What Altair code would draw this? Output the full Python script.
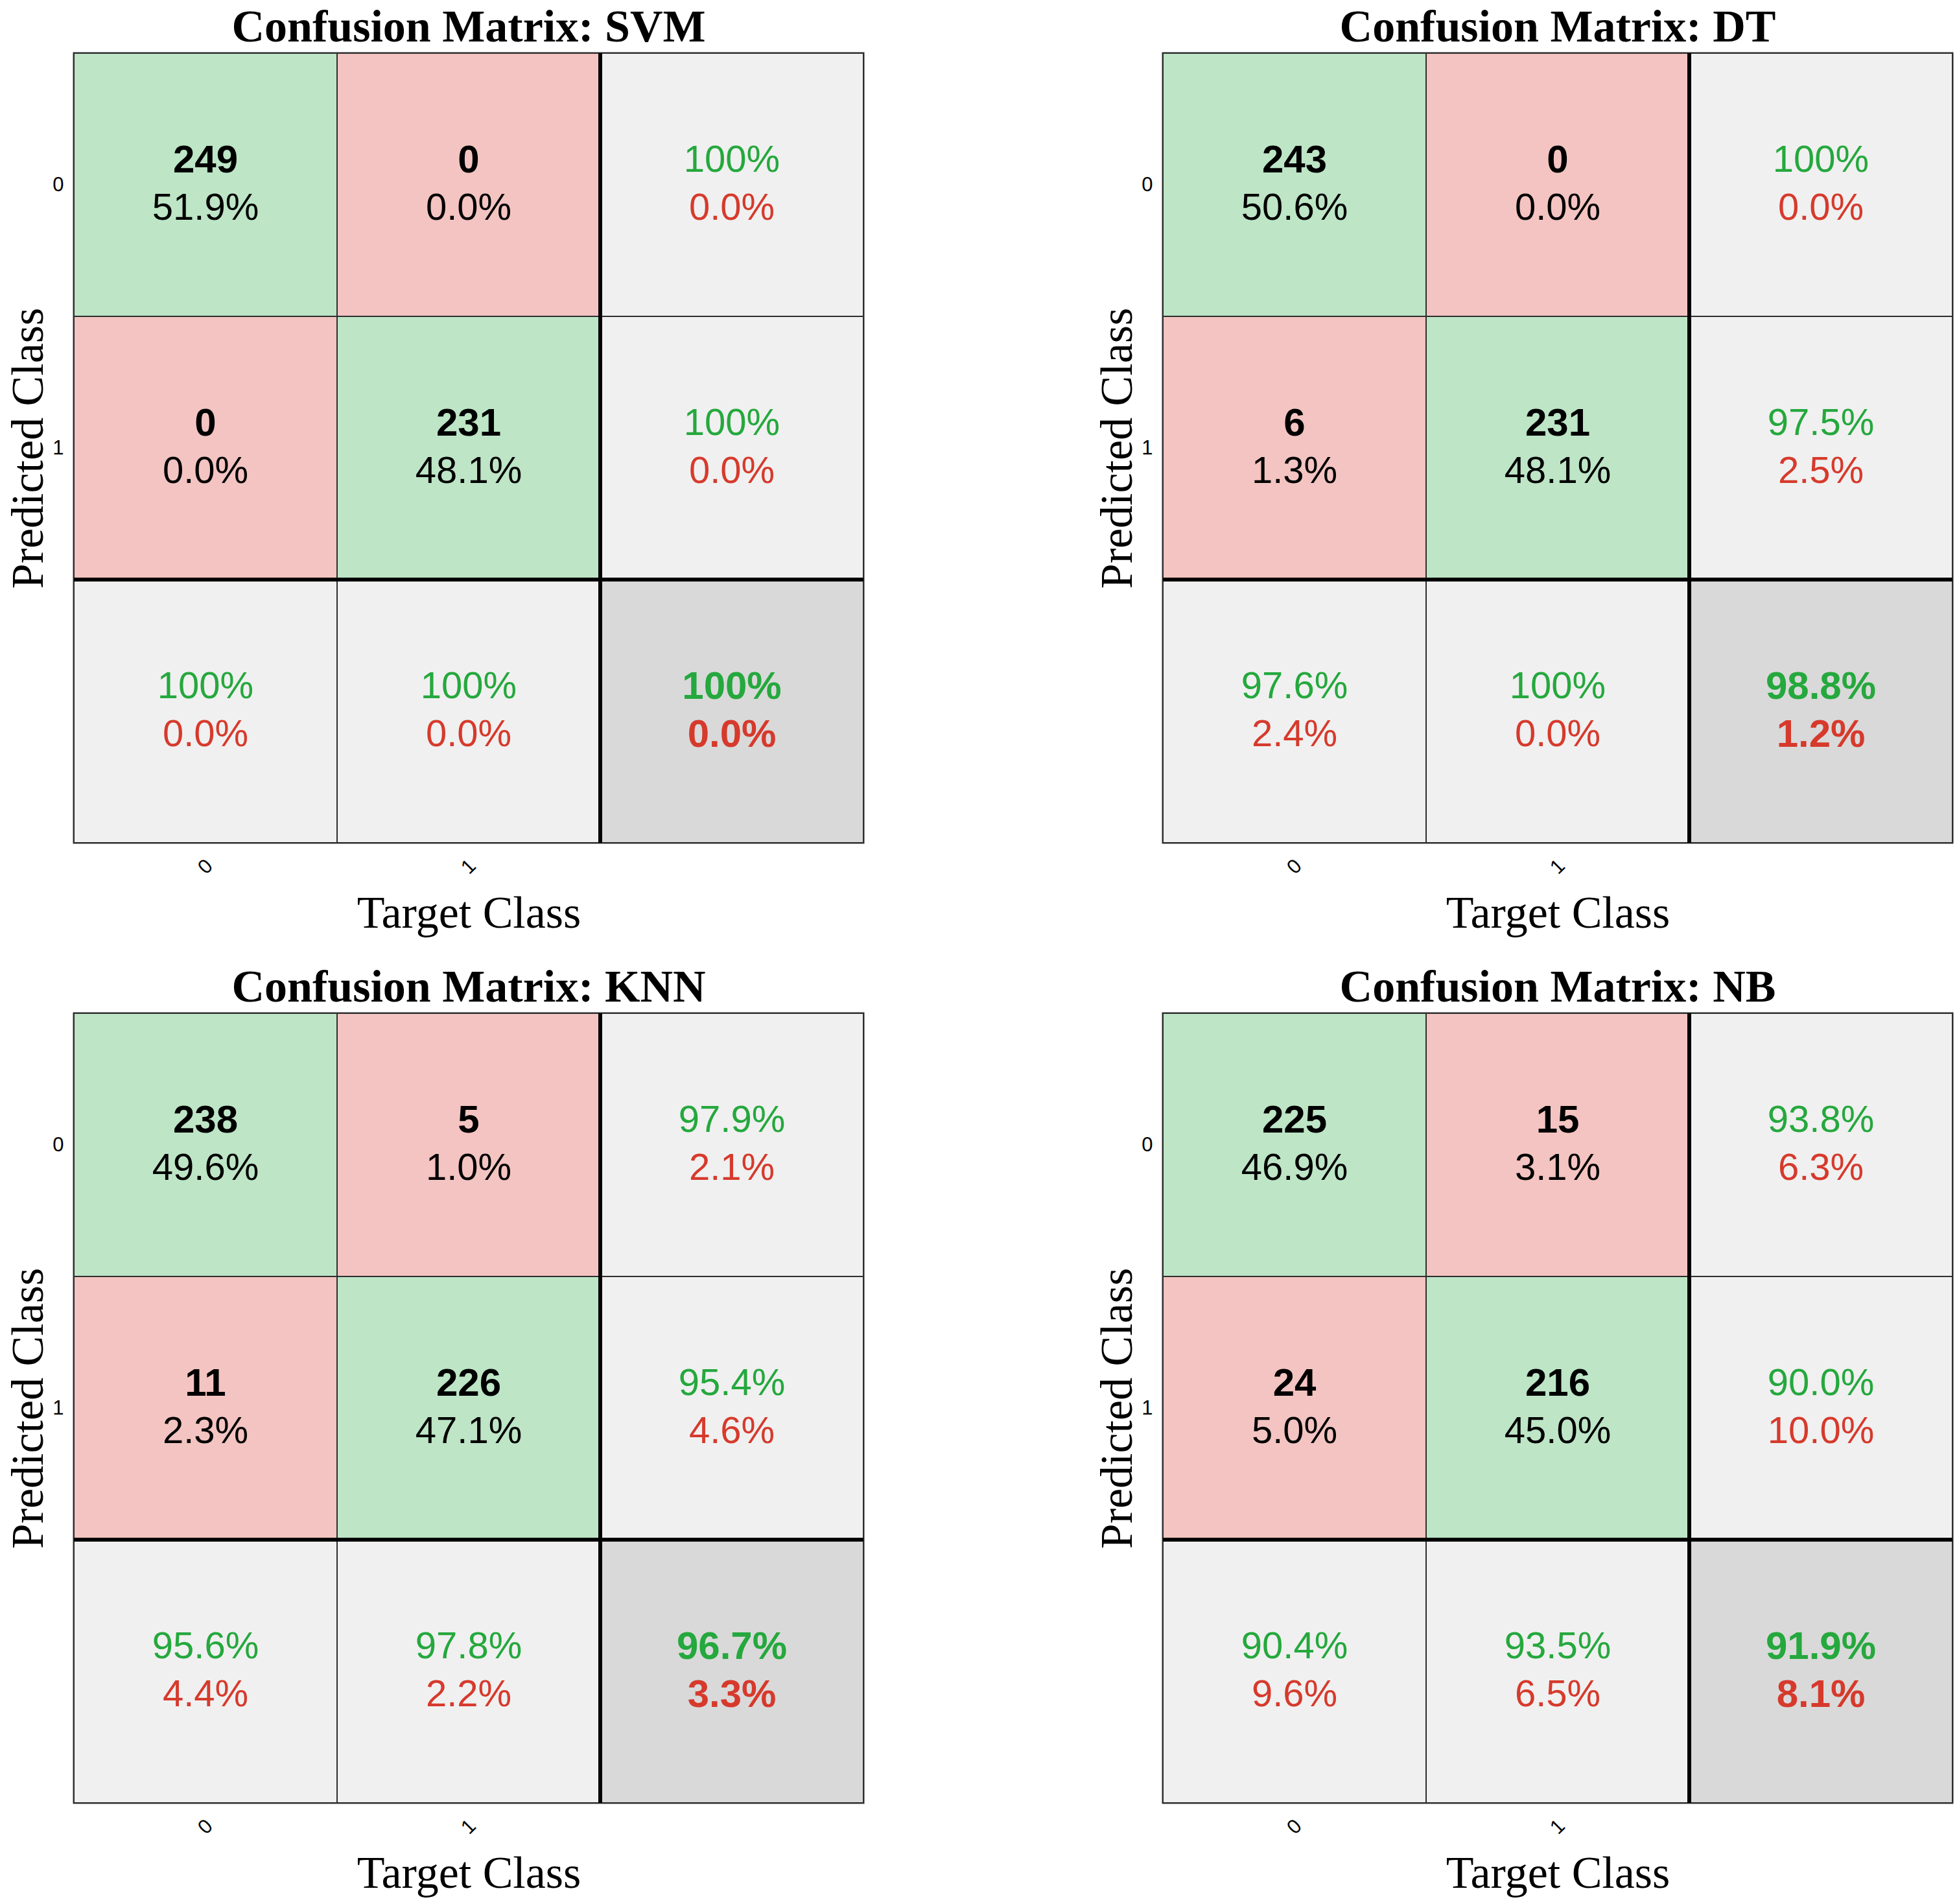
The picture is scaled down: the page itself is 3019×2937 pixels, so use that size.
import altair as alt
import pandas as pd

MODELS = ["SVM", "DT", "KNN", "NB"]
CLASS_LABELS = ["0", "1"]

# confusion counts: rows = predicted class, columns = target class
COUNTS = {
    "SVM": [[249, 0], [0, 231]],
    "DT": [[243, 0], [6, 231]],
    "KNN": [[238, 5], [11, 226]],
    "NB": [[225, 15], [24, 216]],
}
# share of all samples held by each count cell
SHARES = {
    "SVM": [["51.9%", "0.0%"], ["0.0%", "48.1%"]],
    "DT": [["50.6%", "0.0%"], ["1.3%", "48.1%"]],
    "KNN": [["49.6%", "1.0%"], ["2.3%", "47.1%"]],
    "NB": [["46.9%", "3.1%"], ["5.0%", "45.0%"]],
}
# right-hand column: per predicted class
ROW_CORRECT = {"SVM": ["100%", "100%"], "DT": ["100%", "97.5%"],
               "KNN": ["97.9%", "95.4%"], "NB": ["93.8%", "90.0%"]}
ROW_WRONG = {"SVM": ["0.0%", "0.0%"], "DT": ["0.0%", "2.5%"],
             "KNN": ["2.1%", "4.6%"], "NB": ["6.3%", "10.0%"]}
# bottom row: per target class
COL_CORRECT = {"SVM": ["100%", "100%"], "DT": ["97.6%", "100%"],
               "KNN": ["95.6%", "97.8%"], "NB": ["90.4%", "93.5%"]}
COL_WRONG = {"SVM": ["0.0%", "0.0%"], "DT": ["2.4%", "0.0%"],
             "KNN": ["4.4%", "2.2%"], "NB": ["9.6%", "6.5%"]}
# bottom-right corner: overall accuracy / error
OVERALL_CORRECT = {"SVM": "100%", "DT": "98.8%", "KNN": "96.7%", "NB": "91.9%"}
OVERALL_WRONG = {"SVM": "0.0%", "DT": "1.2%", "KNN": "3.3%", "NB": "8.1%"}

GREEN_FILL = "#bde5c6"
RED_FILL = "#f3c4c1"
GRAY_FILL = "#f0f0f0"
DARK_FILL = "#d9d9d9"
GREEN_TEXT = "#25a83d"
RED_TEXT = "#d63a2c"
BLACK = "#000000"

CELL_FONT = "Liberation Sans"
TITLE_FONT = "Liberation Serif"
CELL_FONT_SIZE = 58
LINE_GAP = 37
PANEL_SIZE = 1218


def cell_table(model):
    n = len(CLASS_LABELS)
    rows = []

    def add(r, c, fill, t1, t2, col1, col2, w1, w2):
        rows.append(dict(r0=r, r1=r + 1, rm=r + 0.5, c0=c, c1=c + 1, cm=c + 0.5,
                         fill=fill, line1=t1, line2=t2, color1=col1, color2=col2,
                         w1=w1, w2=w2))

    for r in range(n):
        for c in range(n):
            fill = GREEN_FILL if r == c else RED_FILL
            add(r, c, fill, str(COUNTS[model][r][c]), SHARES[model][r][c],
                BLACK, BLACK, "bold", "normal")
        add(r, n, GRAY_FILL, ROW_CORRECT[model][r], ROW_WRONG[model][r],
            GREEN_TEXT, RED_TEXT, "normal", "normal")
    for c in range(n):
        add(n, c, GRAY_FILL, COL_CORRECT[model][c], COL_WRONG[model][c],
            GREEN_TEXT, RED_TEXT, "normal", "normal")
    add(n, n, DARK_FILL, OVERALL_CORRECT[model], OVERALL_WRONG[model],
        GREEN_TEXT, RED_TEXT, "bold", "bold")
    return pd.DataFrame(rows)


def panel(model):
    n = len(CLASS_LABELS)
    df = cell_table(model)
    ticks = [i + 0.5 for i in range(n)]
    label_expr = "[" + ",".join(f"'{s}'" for s in CLASS_LABELS) + "][floor(datum.value)]"
    xscale = alt.Scale(domain=[0, n + 1], nice=False, zero=False)
    yscale = alt.Scale(domain=[0, n + 1], nice=False, zero=False, reverse=True)
    common = dict(domain=False, ticks=False, grid=False, values=ticks,
                  labelExpr=label_expr, labelFont=CELL_FONT, labelFontSize=31,
                  labelColor=BLACK, titleFont=TITLE_FONT, titleFontSize=70,
                  titleFontWeight="normal", titleColor=BLACK)
    xaxis = alt.Axis(title="Target Class", labelAngle=-45, labelAlign="center",
                     labelBaseline="middle", labelPadding=37, titlePadding=22, **common)
    yaxis = alt.Axis(title="Predicted Class", labelAngle=0, labelPadding=16,
                     titlePadding=0, **common)

    base = alt.Chart(df)
    rects = base.mark_rect(stroke="#2e2e2e", strokeWidth=2).encode(
        x=alt.X("c0:Q", scale=xscale, axis=xaxis),
        x2="c1",
        y=alt.Y("r0:Q", scale=yscale, axis=yaxis),
        y2="r1",
        fill=alt.Fill("fill:N", scale=None),
    )

    def text_layer(line, weight, dy):
        size = CELL_FONT_SIZE + (2 if weight == "bold" else 0)
        return base.transform_filter(
            alt.datum[f"w{line}"] == weight
        ).mark_text(font=CELL_FONT, fontSize=size, fontWeight=weight,
                    align="center", baseline="middle", dy=dy).encode(
            x=alt.X("cm:Q", scale=xscale, axis=xaxis),
            y=alt.Y("rm:Q", scale=yscale, axis=yaxis),
            text=f"line{line}:N",
            color=alt.Color(f"color{line}:N", scale=None),
        )

    texts = [text_layer(1, "bold", -LINE_GAP), text_layer(1, "normal", -LINE_GAP),
             text_layer(2, "bold", LINE_GAP), text_layer(2, "normal", LINE_GAP)]

    # thick rules separating the class cells from the summary row / column
    sep = pd.DataFrame({"sep": [n], "lo": [0], "hi": [n + 1]})
    vrule = alt.Chart(sep).mark_rule(color=BLACK, strokeWidth=6).encode(
        x=alt.X("sep:Q", scale=xscale, axis=xaxis),
        y=alt.Y("lo:Q", scale=yscale, axis=yaxis), y2="hi")
    hrule = alt.Chart(sep).mark_rule(color=BLACK, strokeWidth=6).encode(
        y=alt.Y("sep:Q", scale=yscale, axis=yaxis),
        x=alt.X("lo:Q", scale=xscale, axis=xaxis), x2="hi")

    return alt.layer(rects, *texts, vrule, hrule).properties(
        width=PANEL_SIZE, height=PANEL_SIZE,
        title=alt.TitleParams(f"Confusion Matrix: {model}", font=TITLE_FONT,
                              fontSize=70, fontWeight="bold", color=BLACK,
                              anchor="middle", frame="group", offset=0),
    )


chart = alt.concat(*[panel(m) for m in MODELS], columns=2,
                   spacing=alt.RowColnumber(column=351, row=40)).configure_view(
    stroke="#333333", strokeWidth=3
).properties(background="white", padding={"left": 8, "top": 6, "right": 0, "bottom": 0})

chart.save("out.html", embed_options={"renderer": "svg", "actions": False})
